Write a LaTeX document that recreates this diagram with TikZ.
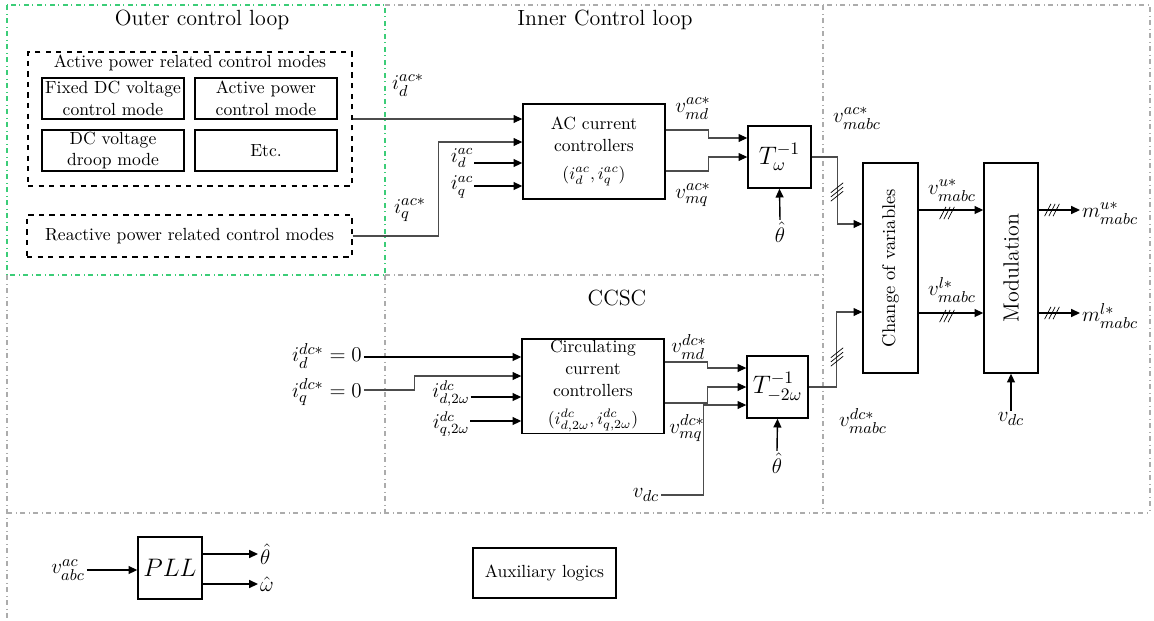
\documentclass[tikz,border=0pt]{standalone}
\usepackage{amsmath,amssymb}
\usetikzlibrary{arrows.meta,positioning,calc}
\definecolor{loopgreen}{RGB}{60,205,120}
\tikzset{
  bush/.pic={\foreach \k in {-1,0,1} \draw[line width=0.4pt] ([xshift=\k*2.4pt]-1.8pt,-3.5pt) -- ++(3.6pt,7pt);},
  busv/.pic={\foreach \k in {-1,0,1} \draw[line width=0.4pt] ([yshift=\k*2.4pt]-3.5pt,-2.8pt) -- ++(7pt,5.6pt);}
}

\begin{document}
\begin{tikzpicture}[x=0.02cm, y=-0.02cm,
  blk/.style={draw, line width=0.8pt, align=center, inner sep=1pt, font=\fontsize{10}{12.5}\selectfont},
  mode/.style={draw, dashed, line width=0.7pt, align=center, font=\fontsize{10}{12}\selectfont},
  lbl/.style={inner sep=1pt, font=\fontsize{13}{15}\selectfont},
  slbl/.style={inner sep=0.5pt, font=\fontsize{11.5}{13}\selectfont},
  ttl/.style={font=\fontsize{12.5}{15}\selectfont},
  region/.style={draw=gray!65, dash dot, line width=0.6pt},
  sig/.style={-{Triangle[length=5pt,width=4.5pt]}, line width=0.8pt},
  wire/.style={-{Triangle[length=5pt,width=4.5pt,color=black]}, line width=0.6pt, draw=black!70}]
\useasboundingbox (0,0) rectangle (1154,620);

% regions
\draw[region] (385,5) -- (1150,5) -- (1150,513);
\draw[region] (823,5) -- (823,513);
\draw[region] (385,275) -- (823,275);
\draw[region] (385,275) -- (385,513);
\draw[region] (7,275) -- (7,620);
\draw[region] (7,513) -- (1150,513);
\draw[draw=loopgreen, dash dot, line width=0.7pt] (7,5) rectangle (385,275);

\node[ttl] (outer) at (202,20) {Outer control loop};
\node[ttl] (inner) at (605,20) {Inner Control loop};
\node[ttl] (ccsc) at (617,298) {CCSC};

% outer loop
\node[mode, minimum width=6.48cm, minimum height=2.68cm] (actmodes) at (190,119) {};
\node[font=\fontsize{10}{12}\selectfont] (acttitle) at (190,63) {Active power related control modes};
\node[blk, minimum width=2.84cm, minimum height=0.82cm] (fixdc) at (113,98.5) {Fixed DC voltage\\control mode};
\node[blk, minimum width=2.84cm, minimum height=0.82cm] (actpw) at (266,98.5) {Active power\\control mode};
\node[blk, minimum width=2.84cm, minimum height=0.82cm] (droop) at (113,150.5) {DC voltage\\droop mode};
\node[blk, minimum width=2.84cm, minimum height=0.82cm] (etc) at (266,150.5) {Etc.};
\node[mode, minimum width=6.5cm, minimum height=0.84cm] (reactmodes) at (189.5,236) {Reactive power related control modes};

% inner control loop
\node[blk, minimum width=2.84cm, minimum height=1.9cm] (acctrl) at (594,151.5) {AC current\\controllers\\[3pt]$(i_d^{ac},i_q^{ac})$};
\node[blk, minimum width=1.26cm, minimum height=1.24cm, font=\fontsize{14}{16}\selectfont] (tw) at (779.5,157) {$T_{\omega}^{-1}$};
\node[lbl] (idacref) at (408,85) {$i_d^{ac*}$};
\node[lbl] (iqacref) at (410,210) {$i_q^{ac*}$};
\node[slbl] (idac) at (462,158) {$i_d^{ac}$};
\node[slbl] (iqac) at (462,187) {$i_q^{ac}$};
\node[lbl] (vmdac) at (693,108) {$v_{md}^{ac*}$};
\node[lbl] (vmqac) at (693,195) {$v_{mq}^{ac*}$};
\node[lbl] (thac) at (780,232) {$\hat{\theta}$};
\node[lbl] (vacabc) at (857,118) {$v_{mabc}^{ac*}$};

\draw[wire] (actmodes.east) -- (actmodes.east -| acctrl.west);
\draw[wire] (reactmodes.east) -- ++(86,0) |- (acctrl.west |- 0,142);
\draw[sig] (idac.east |- 0,163) -- (acctrl.west |- 0,163);
\draw[sig] (iqac.east |- 0,186) -- (acctrl.west |- 0,186);
\draw[wire] (acctrl.east |- 0,130) -- ++(43,0) |- (tw.west |- 0,138);
\draw[wire] (acctrl.east |- 0,171) -- ++(43,0) |- (tw.west);
\draw[sig] (thac.north) -- (tw.south);

% CCSC
\node[blk, minimum width=2.84cm, minimum height=1.88cm, font=\fontsize{10}{12.5}\selectfont] (ccc) at (593,386) {Circulating\\current\\controllers\\[3pt]$(i^{dc}_{d,2\omega},i^{dc}_{q,2\omega})$};
\node[blk, minimum width=1.22cm, minimum height=1.24cm, font=\fontsize{14}{16}\selectfont] (t2w) at (777.5,387) {$T_{-2\omega}^{-1}$};
\node[lbl] (iddc) at (327,356) {$i_d^{dc*}=0$};
\node[lbl] (iqdc) at (327,392) {$i_q^{dc*}=0$};
\node[slbl] (id2w) at (451,393) {$i_{d,2\omega}^{dc}$};
\node[slbl] (iq2w) at (451,424) {$i_{q,2\omega}^{dc}$};
\node[lbl] (vmddc) at (689,347) {$v_{md}^{dc*}$};
\node[lbl] (vmqdc) at (687,428) {$v_{mq}^{dc*}$};
\node[lbl] (vdcin) at (646,495) {$v_{dc}$};
\node[lbl] (thdc) at (777,463) {$\hat{\theta}$};
\node[lbl] (vdcabc) at (863,421) {$v_{mabc}^{dc*}$};

\draw[sig] (iddc.east |- 0,357) -- (ccc.west |- 0,357);
\draw[wire] (iqdc.east |- 0,390) -- ++(51,0) |- (ccc.west |- 0,376);
\draw[sig] (id2w.east |- 0,397) -- (ccc.west |- 0,397);
\draw[sig] (iq2w.east |- 0,421) -- (ccc.west |- 0,421);
\draw[wire] (ccc.east |- 0,362) -- ++(43,0) |- (t2w.west |- 0,368);
\draw[wire] (ccc.east |- 0,403) -- ++(43,0) |- (t2w.west);
\draw[wire] (vdcin.east) -- ++(42,0) |- (t2w.west |- 0,405);
\draw[sig] (thdc.north) -- (t2w.south);

% change of variables and modulation
\node[blk, minimum width=1.1cm, minimum height=4.2cm] (cov) at (890.5,268) {};
\node[rotate=90, font=\fontsize{10.5}{12}\selectfont] (covtext) at (cov) {Change of variables};
\node[blk, minimum width=1.08cm, minimum height=4.2cm] (mod) at (1011,268) {};
\node[rotate=90, font=\fontsize{12.5}{15}\selectfont] (modtext) at (mod) {Modulation};
\node[lbl] (vu) at (952,190) {$v_{mabc}^{u*}$};
\node[lbl] (vl) at (952,290) {$v_{mabc}^{l*}$};
\node[lbl, anchor=west] (mu) at (1080,213) {$m_{mabc}^{u*}$};
\node[lbl, anchor=west] (ml) at (1080,316) {$m_{mabc}^{l*}$};
\node[lbl] (vdcmod) at (1011,419) {$v_{dc}$};

\draw[wire] (tw.east) -- ++(26,0) |- (cov.west |- 0,224);
\draw[wire] (t2w.east) -- ++(28,0) |- (cov.west |- 0,312);
\pic at (837,192) {busv};
\pic at (837,357) {busv};
\draw[sig] (cov.east |- 0,210) -- (mod.west |- 0,210);
\draw[sig] (cov.east |- 0,313) -- (mod.west |- 0,313);
\pic at (947,213) {bush};
\pic at (947,316) {bush};
\draw[sig] (mod.east |- 0,210) -- (mu.west |- 0,210);
\draw[sig] (mod.east |- 0,313) -- (ml.west |- 0,313);
\pic at (1052,210) {bush};
\pic at (1052,313) {bush};
\draw[sig] (vdcmod.north) -- (mod.south);

% PLL and auxiliary logics
\node[blk, minimum width=1.28cm, minimum height=1.24cm, font=\fontsize{14}{16}\selectfont] (pll) at (170,568) {$PLL$};
\node[lbl] (vabc) at (68,570) {$v_{abc}^{ac}$};
\node[lbl, anchor=west] (thpll) at (258,554) {$\hat{\theta}$};
\node[lbl, anchor=west] (ompll) at (258,584) {$\hat{\omega}$};
\node[blk, minimum width=2.86cm, minimum height=1cm] (aux) at (544.5,573) {Auxiliary logics};
\draw[sig] (vabc.east) -- (pll.west |- vabc.east);
\draw[sig] (pll.east |- thpll.west) -- (thpll.west);
\draw[sig] (pll.east |- ompll.west) -- (ompll.west);
\end{tikzpicture}
\end{document}
